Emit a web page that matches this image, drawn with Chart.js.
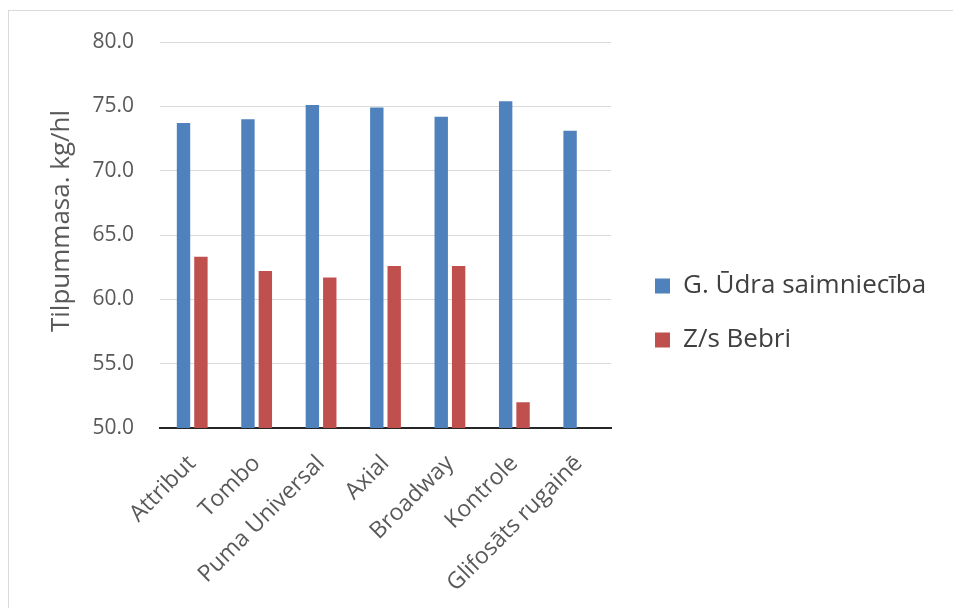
<!DOCTYPE html>
<html>
<head>
<meta charset="utf-8">
<script src="https://cdn.jsdelivr.net/npm/chart.js@4.4.1/dist/chart.umd.min.js"></script>
<style>
  html, body { margin: 0; padding: 0; background: #fff; overflow: hidden; }
  #frame { position: absolute; left: 8px; top: 10px; width: 980px; height: 640px; border: 1px solid #d9d9d9; }
  #wrap { position: absolute; left: 0; top: 0; width: 953px; height: 608px; }
</style>
</head>
<body>
<div id="frame"></div>
<div id="wrap"><canvas id="c" width="953" height="608"></canvas></div>
<script>
const categories = ["Attribut", "Tombo", "Puma Universal", "Axial", "Broadway", "Kontrole", "Glifosāts rugainē"];
const seriesNames = ["G. Ūdra saimniecība", "Z/s Bebri"];
const udraValues = [73.7, 74.0, 75.1, 74.9, 74.2, 75.4, 73.1];
const bebriValues = [63.3, 62.2, 61.7, 62.6, 62.6, 52.0, null];
const yTitle = "Tilpummasa. kg/hl";
const yMin = 50, yMax = 80, yStep = 5;

const FONT = "'Open Sans', 'Noto Sans', sans-serif";

// Legend sizing/placement tweaks (layout only)
const legendTweak = {
  id: 'legendTweak',
  beforeLayout(chart) {
    const lg = chart.legend;
    if (lg && !lg._tweaked) {
      const orig = lg.fit;
      lg.fit = function () { orig.call(this); this.width = 332; };
      lg._tweaked = true;
    }
  },
  afterLayout(chart) {
    const lg = chart.legend;
    if (lg) { lg.left += 16; lg.right += 16; lg.top -= 7; lg.bottom -= 7; }
  }
};

// Vertical axis title
const yTitlePlugin = {
  id: 'yTitlePlugin',
  afterDraw(chart) {
    const { ctx, chartArea } = chart;
    ctx.save();
    ctx.translate(62, (chartArea.top + chartArea.bottom) / 2 - 14);
    ctx.rotate(-Math.PI / 2);
    ctx.font = "26px " + FONT;
    ctx.fillStyle = '#595959';
    ctx.textAlign = 'center';
    ctx.textBaseline = 'middle';
    ctx.fillText(yTitle, 0, 0);
    ctx.restore();
  }
};

new Chart(document.getElementById('c'), {
  type: 'bar',
  data: {
    labels: categories,
    datasets: [
      { label: seriesNames[0], data: udraValues, backgroundColor: '#4F81BD', borderWidth: 0,
        categoryPercentage: 0.54, barPercentage: 0.77 },
      { label: seriesNames[1], data: bebriValues, backgroundColor: '#C0504D', borderWidth: 0,
        categoryPercentage: 0.54, barPercentage: 0.77 }
    ]
  },
  plugins: [legendTweak, yTitlePlugin],
  options: {
    responsive: false,
    animation: false,
    devicePixelRatio: 1,
    layout: { padding: { top: 42, left: 20, right: 10, bottom: 10 } },
    plugins: {
      tooltip: { enabled: false },
      legend: {
        position: 'right',
        align: 'center',
        labels: {
          boxWidth: 15, boxHeight: 15, padding: 28,
          color: '#404040',
          font: { family: FONT, size: 26 }
        }
      }
    },
    scales: {
      x: {
        grid: { display: false, drawTicks: false },
        border: { display: true, color: '#262626', width: 2 },
        ticks: {
          minRotation: 45, maxRotation: 45, padding: 22,
          color: '#595959', font: { family: FONT, size: 23 }
        },
        afterFit: (s) => { s.height = 170; }
      },
      y: {
        min: yMin, max: yMax,
        grid: { color: '#d9d9d9', lineWidth: 1, drawTicks: false },
        border: { display: false },
        ticks: {
          stepSize: yStep, padding: 26,
          color: '#595959', font: { family: FONT, size: 21 },
          callback: (v) => Number(v).toFixed(1)
        },
        afterFit: (s) => { s.width = 140; }
      }
    }
  }
});
</script>
</body>
</html>
